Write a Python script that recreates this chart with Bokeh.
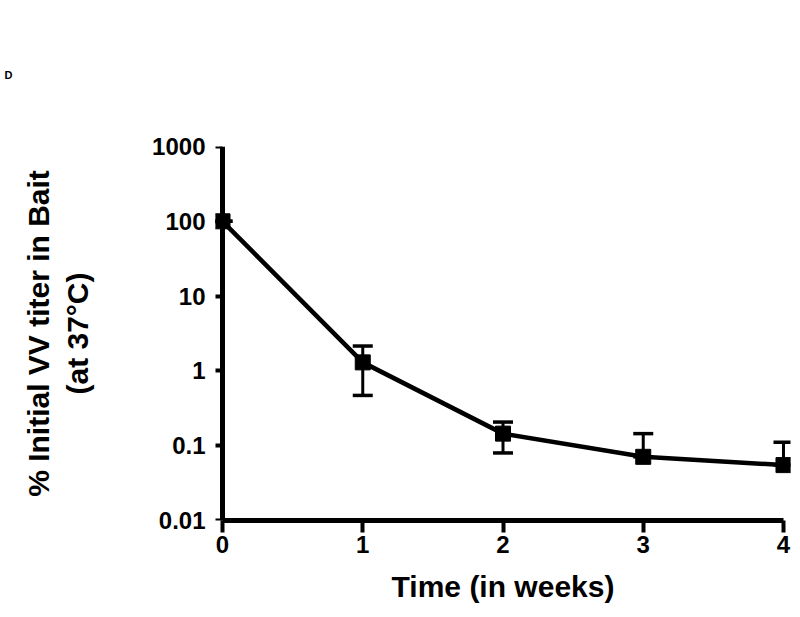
from bokeh.plotting import figure
from bokeh.models import (ColumnDataSource, Range1d, FixedTicker, CustomJSTickFormatter,
                          Whisker, TeeHead, Title, LogAxis)
from bokeh.embed import file_html
from bokeh.resources import INLINE

# data
weeks = [0, 1, 2, 3, 4]
titer_pct = [100, 1.3, 0.145, 0.071, 0.055]
err_low = [100, 0.47, 0.08, 0.071, 0.055]
err_high = [100, 2.15, 0.207, 0.145, 0.111]
y_ticks = [0.01, 0.1, 1, 10, 100, 1000]
x_ticks = [0, 1, 2, 3, 4]

FONT = "Liberation Sans"
W, H = 800, 615

p = figure(width=W, height=H, y_axis_type="log",
           x_range=Range1d(-0.05, 4.05), y_range=Range1d(0.01, 1000),
           output_backend="svg", toolbar_location=None,
           min_border_left=215, min_border_right=10, min_border_top=146, min_border_bottom=95)
p.outline_line_color = None
p.grid.grid_line_color = None
p.background_fill_color = "white"
p.border_fill_color = "white"

src = ColumnDataSource(dict(x=weeks, y=titer_pct, lo=err_low, hi=err_high))

p.line("x", "y", source=src, line_width=4.5, line_color="black")
w = Whisker(base="x", lower="lo", upper="hi", source=src, line_width=3, line_color="black",
            upper_head=TeeHead(size=20, line_width=3.5, line_color="black"),
            lower_head=TeeHead(size=20, line_width=3.5, line_color="black"))
p.add_layout(w)
p.scatter("x", "y", source=src, marker="square", size=15, color="black")

# label-only y axis placed at the frame edge
ylab = LogAxis(ticker=FixedTicker(ticks=y_ticks),
               formatter=CustomJSTickFormatter(code="return tick.toString();"))
p.add_layout(ylab, "left")

def style(ax):
    ax.axis_line_width = 5
    ax.major_tick_line_width = 4
    ax.major_tick_out = 12
    ax.major_tick_in = 0
    ax.minor_tick_line_color = None
    ax.major_label_text_font = FONT
    ax.major_label_text_font_style = "bold"
    ax.major_label_text_font_size = "24px"
    ax.major_label_text_color = "black"
    ax.axis_label_text_font = FONT
    ax.axis_label_text_font_style = "bold"
    ax.axis_label_text_font_size = "30px"
    ax.axis_label_text_color = "black"
    ax.axis_line_color = "black"
    ax.major_tick_line_color = "black"

style(p.xaxis[0])
style(p.yaxis[0])
style(ylab)

p.xaxis.ticker = FixedTicker(ticks=x_ticks)
p.xaxis.bounds = (0, 4)
p.xaxis.major_label_standoff = 3
p.xaxis.axis_label = "Time (in weeks)"
p.xaxis.axis_label_standoff = 14

# line/ticks axis drawn at x = 0
yline = p.yaxis[0]
yline.ticker = FixedTicker(ticks=y_ticks)
yline.fixed_location = 0
yline.formatter = CustomJSTickFormatter(code="return '';")

ylab.axis_line_color = None
ylab.major_tick_line_color = None
ylab.major_tick_out = 7
ylab.major_label_standoff = 3
ylab.axis_label = "% Initial VV titer in Bait\n(at 37\u00b0C)"
ylab.axis_label_standoff = 55

# panel letter in the top-left corner
p.add_layout(Title(text="D", align="left", vertical_align="top", offset=-211, standoff=128,
                   text_font=FONT, text_font_style="bold", text_font_size="11px",
                   text_color="black"),
             "above")

open("out.html", "w").write(file_html(p, INLINE))
